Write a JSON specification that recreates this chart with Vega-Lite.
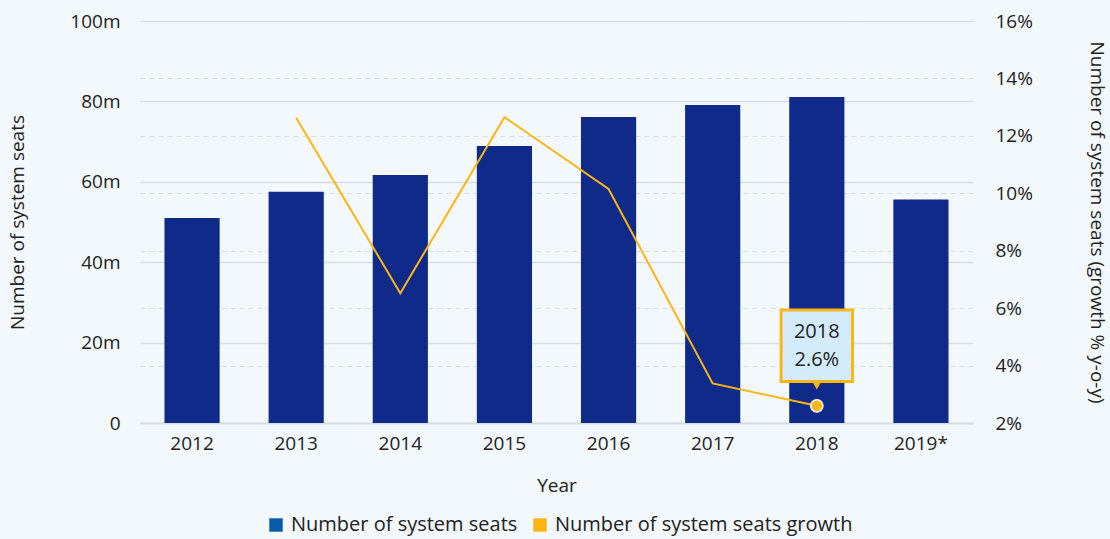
{
  "$schema": "https://vega.github.io/schema/vega-lite/v6.json",
  "autosize": "none",
  "width": 833,
  "height": 402,
  "padding": {"left": 140, "top": 21, "right": 137, "bottom": 116},
  "background": "#f2f8fc",
  "config": {
    "view": {"stroke": null},
    "font": "Open Sans",
    "axis": {"labelFont": "Open Sans", "titleFont": "Open Sans", "labelFontSize": 19, "titleFontSize": 19, "labelColor": "#222222", "titleColor": "#222222", "titleFontWeight": "normal", "ticks": false, "domain": false},
    "legend": {"labelFont": "Open Sans", "labelFontSize": 20, "labelColor": "#222222", "labelLimit": 500}
  },
  "data": {
    "values": [
      {"year": "2012", "seats": 51.0, "growth": null},
      {"year": "2013", "seats": 57.5, "growth": 12.63},
      {"year": "2014", "seats": 61.7, "growth": 6.52},
      {"year": "2015", "seats": 68.9, "growth": 12.65},
      {"year": "2016", "seats": 76.1, "growth": 10.15},
      {"year": "2017", "seats": 79.1, "growth": 3.38},
      {"year": "2018", "seats": 81.1, "growth": 2.6},
      {"year": "2019*", "seats": 55.6, "growth": null}
    ]
  },
  "encoding": {
    "x": {
      "field": "year", "type": "ordinal", "sort": null,
      "scale": {"paddingInner": 0.47, "paddingOuter": 0.235},
      "axis": {"title": "Year", "labelAngle": 0, "labelPadding": 11, "titlePadding": 23, "domain": true, "domainColor": "#d6dce1", "domainWidth": 2, "grid": false}
    }
  },
  "layer": [
    {
      "layer": [
        {
          "mark": {"type": "bar", "color": "#102a8a"},
          "encoding": {
            "y": {
              "field": "seats", "type": "quantitative",
              "scale": {"domain": [0, 100]},
              "axis": {"title": "Number of system seats", "values": [0, 20, 40, 60, 80, 100], "labelExpr": "datum.value == 0 ? '0' : datum.value + 'm'", "labelPadding": 20, "titlePadding": 42, "grid": true, "gridColor": "#d9dde1", "gridWidth": 1.5}
            }
          }
        },
        {
          "mark": {"type": "point", "shape": "square", "filled": true, "opacity": 0},
          "encoding": {
            "y": {"field": "seats", "type": "quantitative", "scale": {"domain": [0, 100]}},
            "color": {
              "datum": "Number of system seats",
              "scale": {"domain": ["Number of system seats", "Number of system seats growth"], "range": ["#0b5aa7", "#fbb515"]},
              "legend": {"title": null, "orient": "none", "legendX": 126, "legendY": 494, "direction": "horizontal", "symbolType": "square", "symbolSize": 180, "symbolOpacity": 1, "symbolStrokeWidth": 0, "columnPadding": 12, "labelOffset": 5}
            }
          }
        }
      ]
    },
    {
      "layer": [
        {
          "mark": {"type": "line", "strokeWidth": 2, "color": "#fbb515"},
          "encoding": {
            "y": {
              "field": "growth", "type": "quantitative",
              "scale": {"domain": [2, 16]},
              "axis": {"title": "Number of system seats (growth % y-o-y)", "orient": "right", "values": [2, 4, 6, 8, 10, 12, 14, 16], "labelExpr": "datum.value + '%'", "labelPadding": 22, "titlePadding": 54, "grid": true, "gridColor": "#d9dde1", "gridDash": [5, 4], "gridWidth": 1}
            }
          }
        },
        {
          "transform": [{"filter": "datum.year == '2018'"}],
          "mark": {"type": "point", "shape": "circle", "filled": true, "fill": "#fbb515", "stroke": "#ffffff", "strokeWidth": 1.5, "size": 150, "opacity": 1},
          "encoding": {"y": {"field": "growth", "type": "quantitative", "scale": {"domain": [2, 16]}}}
        },
        {
          "transform": [{"filter": "datum.year == '2018'"}],
          "mark": {"type": "point", "shape": "square", "filled": true, "fill": "#d3ebfa", "stroke": "#fbb515", "strokeWidth": 3, "size": 5100, "opacity": 1, "yOffset": -60},
          "encoding": {"y": {"field": "growth", "type": "quantitative", "scale": {"domain": [2, 16]}}}
        },
        {
          "transform": [{"filter": "datum.year == '2018'"}],
          "mark": {"type": "point", "shape": "triangle-down", "filled": true, "fill": "#fbb515", "strokeWidth": 0, "size": 70, "opacity": 1, "yOffset": -20},
          "encoding": {"y": {"field": "growth", "type": "quantitative", "scale": {"domain": [2, 16]}}}
        },
        {
          "transform": [{"filter": "datum.year == '2018'"}],
          "mark": {"type": "text", "font": "Open Sans", "fontSize": 20, "color": "#222222", "yOffset": -74},
          "encoding": {"y": {"field": "growth", "type": "quantitative", "scale": {"domain": [2, 16]}}, "text": {"field": "year"}}
        },
        {
          "transform": [{"filter": "datum.year == '2018'"}, {"calculate": "format(datum.growth, '.1f') + '%'", "as": "pct"}],
          "mark": {"type": "text", "font": "Open Sans", "fontSize": 20, "color": "#222222", "yOffset": -46},
          "encoding": {"y": {"field": "growth", "type": "quantitative", "scale": {"domain": [2, 16]}}, "text": {"field": "pct"}}
        }
      ]
    }
  ],
  "resolve": {"scale": {"y": "independent"}}
}
